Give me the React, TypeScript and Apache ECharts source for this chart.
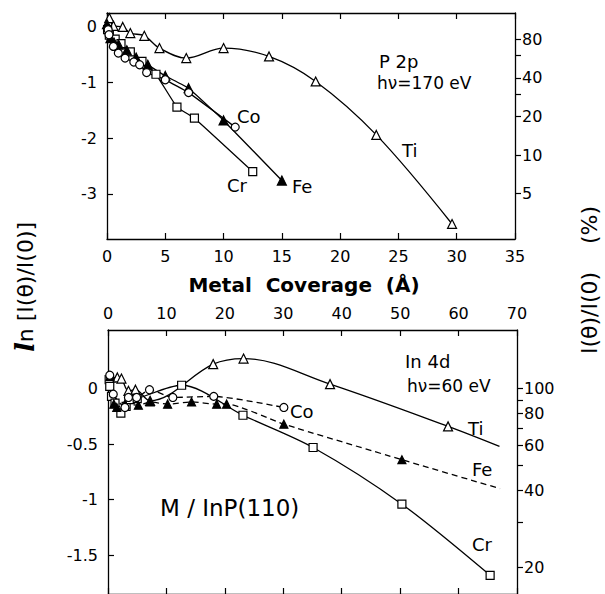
import React, { useEffect, useRef } from 'react';
import * as echarts from 'echarts';

const FONT = 'DejaVu Sans';

// ---- Top panel (P 2p, hν = 170 eV) : [coverage Å, ln(I/I0)]
const topTi = [[0.2, 0.16], [0.55, 0.02], [1.35, 0], [2.0, -0.11], [3.2, -0.16], [4.5, -0.38], [6.8, -0.56], [10.0, -0.38], [13.9, -0.53], [17.9, -0.98], [23.1, -1.94], [29.6, -3.54]];
const topCr = [[0.05, -0.05], [0.2, -0.15], [0.7, -0.22], [1.2, -0.3], [2.0, -0.45], [3.0, -0.62], [4.2, -0.85], [6.0, -1.44], [7.5, -1.64], [12.5, -2.6]];
const topFe = [[0, 0.05], [0.3, -0.2], [0.6, -0.28], [1.0, -0.32], [1.7, -0.42], [2.5, -0.55], [3.5, -0.68], [5.0, -0.88], [7.0, -1.1], [10.0, -1.68], [15.0, -2.76]];
const topCo = [[0.1, -0.05], [0.17, -0.14], [0.55, -0.35], [0.97, -0.47], [1.55, -0.56], [2.3, -0.63], [2.8, -0.68], [3.4, -0.82], [5.0, -0.95], [7.0, -1.18], [11.0, -1.8]];

// ---- Bottom panel (In 4d, hν = 60 eV)
const botTi = [[0.5, 0.1], [1.6, 0.1], [2.3, 0.09], [3.5, -0.02], [4.7, -0.01], [7.2, -0.11], [18.0, 0.22], [23.2, 0.27], [38.0, 0.04], [58.2, -0.34]];
const botTiEnd = [67, -0.52];
const botCr = [[0.2, 0.08], [0.3, 0.02], [0.6, -0.07], [1.2, -0.13], [2.2, -0.22], [3.1, -0.16], [3.8, -0.1], [5.0, -0.09], [12.6, 0.03], [23.1, -0.24], [35.1, -0.53], [50.3, -1.04], [65.4, -1.68]];
const botFe = [[0.34, 0.11], [1.0, -0.14], [1.5, -0.17], [2.9, -0.14], [5.2, -0.15], [7.2, -0.12], [10.2, -0.14], [14.3, -0.12], [18.6, -0.14], [20.3, -0.14], [30.1, -0.32], [50.3, -0.64]];
const botFeEnd = [67.1, -0.9];
const botCo = [[0.3, 0.12], [0.9, -0.05], [2.9, -0.17], [3.5, -0.08], [4.9, -0.08], [7.1, -0.01], [11.1, -0.08], [18.1, -0.07], [30.1, -0.17]];

// ---- Axis ticks
const topLeftTicks = [0, -1, -2, -3];
const botLeftTicks = [0, -0.5, -1, -1.5];
const topRightLabels = [80, 40, 20, 10, 5];
const topRightTicks = [80, 60, 40, 30, 20, 10, 5];
const botRightLabels = [100, 80, 60, 40, 20];
const botRightTicks = [100, 90, 80, 70, 60, 50, 40, 30, 20];

const TOP_MIN = -3.81, TOP_MAX = 0.25;
const BOT_MIN = -1.848, BOT_MAX = 0.527;

const lnP = (p: number) => Math.log(p / 100);

const axisLine = { show: true, onZero: false, lineStyle: { color: '#000', width: 1.3 } };
const labelStyle = { color: '#000', fontFamily: FONT, fontSize: 16 };

function xAx(grid: number, pos: string, max: number, interval: number, labels: boolean) {
  return {
    type: 'value', gridIndex: grid, position: pos, min: 0, max, interval,
    axisLine, splitLine: { show: false },
    axisTick: { show: true, inside: true, length: 6, lineStyle: { color: '#000', width: 1.2 } },
    axisLabel: { show: labels, margin: 9, ...labelStyle },
  };
}

function yLeft(grid: number, min: number, max: number, ticks: number[]) {
  return {
    type: 'value', gridIndex: grid, position: 'left', min, max,
    axisLine, splitLine: { show: false },
    axisTick: { show: true, inside: true, length: 6, customValues: ticks, lineStyle: { color: '#000', width: 1.2 } },
    axisLabel: { show: true, margin: 10, customValues: ticks, ...labelStyle },
  };
}

function yRight(grid: number, min: number, max: number, ticks: number[], labels: number[]) {
  return {
    type: 'value', gridIndex: grid, position: 'right', min, max,
    axisLine, splitLine: { show: false },
    axisTick: { show: true, inside: false, length: 6, customValues: ticks.map(lnP), lineStyle: { color: '#000', width: 1.2 } },
    axisLabel: {
      show: true, margin: 7, customValues: labels.map(lnP), ...labelStyle,
      formatter: (v: number) => String(Math.round(Math.exp(v) * 100)),
    },
  };
}

function ser(name: string, data: any[], xi: number, yi: number, symbol: string, filled: boolean, dashed: boolean, size: number, smooth: number) {
  return {
    name, type: 'line', xAxisIndex: xi, yAxisIndex: yi, data,
    smooth, symbol, symbolSize: size, showAllSymbol: true,
    lineStyle: { color: '#000', width: 1.3, type: dashed ? [6, 4] : 'solid' },
    itemStyle: { color: filled ? '#000' : '#fff', borderColor: '#000', borderWidth: 1.2 },
    z: 3,
  };
}

function txt(x: number, y: number, text: string, size = 17, extra: any = {}) {
  return {
    type: 'text', x, y,
    style: { text, fill: '#000', font: `${size}px "${FONT}"`, textVerticalAlign: 'middle', ...extra },
  };
}

export default function App() {
  const ref = useRef<HTMLDivElement>(null);
  useEffect(() => {
    if (!ref.current) return;
    const chart = echarts.init(ref.current, undefined, { renderer: 'svg' });
    const option: any = {
      animation: false,
      backgroundColor: '#fff',
      grid: [
        { left: 107, top: 13, width: 408, height: 226 },
        { left: 108, top: 330, width: 409, height: 266 },
      ],
      xAxis: [
        xAx(0, 'bottom', 35, 5, true),
        xAx(0, 'top', 35, 5, false),
        xAx(1, 'top', 70, 10, true),
        xAx(1, 'bottom', 70, 10, false),
      ],
      yAxis: [
        yLeft(0, TOP_MIN, TOP_MAX, topLeftTicks),
        yRight(0, TOP_MIN, TOP_MAX, topRightTicks, topRightLabels),
        yLeft(1, BOT_MIN, BOT_MAX, botLeftTicks),
        yRight(1, BOT_MIN, BOT_MAX, botRightTicks, botRightLabels),
      ],
      series: [
        ser('Ti', topTi, 0, 0, 'triangle', false, false, 9, 0.35),
        ser('Cr', topCr, 0, 0, 'rect', false, false, 8, 0.1),
        ser('Fe', topFe, 0, 0, 'triangle', true, false, 9, 0.1),
        ser('Co', topCo, 0, 0, 'circle', false, false, 8, 0.1),
        ser('Ti', [...botTi, { value: botTiEnd, symbol: 'none' }], 2, 2, 'triangle', false, false, 9, 0.35),
        ser('Cr', botCr, 2, 2, 'rect', false, false, 8, 0.3),
        ser('Fe', [...botFe, { value: botFeEnd, symbol: 'none' }], 2, 2, 'triangle', true, true, 8, 0.2),
        ser('Co', botCo, 2, 2, 'circle', false, true, 8, 0.2),
      ],
      graphic: [
        // axis titles
        { type: 'text', x: 304, y: 285, style: { text: 'Metal  Coverage  (Å)', fill: '#000', font: `bold 20px "${FONT}"`, textAlign: 'center', textVerticalAlign: 'middle' } },
        {
          type: 'text', x: 25, y: 287, rotation: Math.PI / 2,
          style: {
            text: '{it|l}n [I(θ)/I(0)]', fill: '#000', font: `22px "${FONT}"`, textAlign: 'center', textVerticalAlign: 'middle',
            rich: { it: { fontStyle: 'italic', fontFamily: 'DejaVu Serif', fontSize: 26, fontWeight: 'bold' } },
          },
        },
        {
          type: 'text', x: 589, y: 280, rotation: Math.PI / 2,
          style: { text: 'I(θ)/I(0)    (%)', fill: '#000', font: `22px "${FONT}"`, textAlign: 'center', textVerticalAlign: 'middle' },
        },
        // top panel annotations
        txt(379, 61, 'P 2p', 18),
        txt(377, 83, 'hν=170 eV', 17),
        txt(237, 116, 'Co', 18),
        txt(227, 185, 'Cr', 18),
        txt(292, 186, 'Fe', 18),
        txt(402, 150, 'Ti', 18),
        // bottom panel annotations
        txt(405, 361, 'In 4d', 18),
        txt(407, 386, 'hν=60 eV', 17),
        txt(290, 411, 'Co', 18),
        txt(468, 428, 'Ti', 18),
        txt(472, 469, 'Fe', 18),
        txt(472, 544, 'Cr', 18),
        txt(160, 508, 'M / InP(110)', 23),
      ],
    };
    chart.setOption(option);
    return () => chart.dispose();
  }, []);
  return <div ref={ref} style={{ position: 'fixed', left: 0, top: 0, width: 605, height: 594 }} />;
}
